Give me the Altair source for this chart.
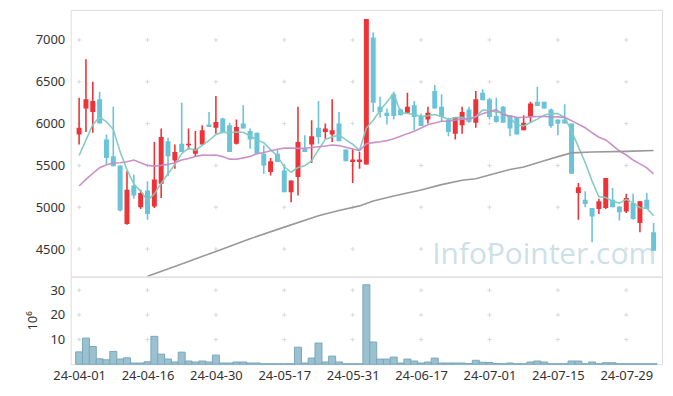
import altair as alt
import pandas as pd

# ---------------- data ----------------
dates = [
    "24-04-01", "24-04-02", "24-04-03", "24-04-04", "24-04-05", "24-04-08", "24-04-09", "24-04-11", "24-04-12", "24-04-15",
    "24-04-16", "24-04-17", "24-04-18", "24-04-19", "24-04-22", "24-04-23", "24-04-24", "24-04-25", "24-04-26", "24-04-29",
    "24-04-30", "24-05-02", "24-05-03", "24-05-07", "24-05-08", "24-05-09", "24-05-10", "24-05-13", "24-05-14", "24-05-16",
    "24-05-17", "24-05-20", "24-05-21", "24-05-22", "24-05-23", "24-05-24", "24-05-27", "24-05-28", "24-05-29", "24-05-30",
    "24-05-31", "24-06-03", "24-06-04", "24-06-05", "24-06-07", "24-06-10", "24-06-11", "24-06-12", "24-06-13", "24-06-14",
    "24-06-17", "24-06-18", "24-06-19", "24-06-20", "24-06-21", "24-06-24", "24-06-25", "24-06-26", "24-06-27", "24-06-28",
    "24-07-01", "24-07-02", "24-07-03", "24-07-04", "24-07-05", "24-07-08", "24-07-09", "24-07-10", "24-07-11", "24-07-12",
    "24-07-15", "24-07-16", "24-07-17", "24-07-18", "24-07-19", "24-07-22", "24-07-23", "24-07-24", "24-07-25", "24-07-26",
    "24-07-29", "24-07-30", "24-07-31", "24-08-01", "24-08-02",
]

opens = [5870, 6180, 6140, 6290, 5810, 5610, 5500, 4800, 5260, 5000,
         5200, 5010, 5280, 5790, 5560, 5760, 5740, 5640, 5750, 5990,
         5950, 6060, 5980, 5760, 6000, 5910, 5890, 5640, 5420, 5640,
         5440, 5180, 5360, 5700, 5750, 5950, 5900, 5870, 6000, 5690,
         5540, 5540, 5510, 7030, 6200, 6130, 6350, 6170, 6130, 6220,
         6090, 6050, 6390, 6200, 6050, 5880, 5980, 6170, 6010, 6370,
         6290, 6090, 6200, 6100, 6080, 5920, 6080, 6260, 6260, 6170,
         6050, 6050, 6000, 5170, 5090, 4990, 4980, 4990, 5090, 5010,
         4950, 5050, 4810, 5090, 4700]

highs = [6310, 6770, 6500, 6380, 5870, 6200, 5500, 5430, 5390, 5210,
         5310, 5780, 5940, 5830, 5750, 6250, 5940, 5910, 5980, 6140,
         6330, 6070, 6010, 6050, 6220, 5940, 5890, 5740, 5590, 5690,
         5510, 5320, 6200, 5860, 6040, 6270, 6000, 6290, 6140, 5690,
         5700, 5660, 7250, 7090, 6320, 6180, 6380, 6180, 6370, 6270,
         6120, 6200, 6460, 6350, 6070, 6080, 6200, 6200, 6390, 6410,
         6310, 6310, 6210, 6100, 6080, 6100, 6260, 6440, 6260, 6180,
         6050, 6230, 6000, 5290, 5190, 4990, 5100, 5350, 5230, 5010,
         5160, 5160, 5070, 5170, 4810]

lows = [5750, 5900, 5890, 6000, 5510, 5490, 4950, 4790, 5100, 4980,
        4850, 4990, 5110, 5370, 5460, 5660, 5690, 5600, 5750, 5960,
        5880, 5900, 5660, 5750, 5940, 5700, 5640, 5400, 5380, 5540,
        5180, 5060, 5140, 5660, 5530, 5760, 5820, 5780, 5790, 5550,
        5290, 5460, 5510, 6140, 6070, 5990, 6050, 6100, 6130, 5920,
        5970, 6000, 6180, 6020, 5850, 5810, 5880, 6010, 5950, 6280,
        6050, 6010, 6010, 5850, 5870, 5920, 6010, 6210, 6180, 5950,
        5860, 6000, 5400, 4850, 5000, 4580, 4920, 4980, 5000, 4840,
        4930, 4850, 4700, 4980, 4480]

closes = [5950, 6290, 6270, 6000, 5590, 5490, 4960, 5210, 5140, 5170,
          4920, 5330, 5840, 5610, 5660, 5660, 5760, 5700, 5920, 5960,
          6020, 5900, 5660, 5960, 5940, 5810, 5640, 5500, 5550, 5540,
          5180, 5320, 5780, 5660, 5850, 5840, 5940, 5920, 5790, 5550,
          5570, 5570, 7250, 6250, 6140, 6090, 6090, 6100, 6200, 6080,
          5970, 6130, 6180, 6080, 5900, 6080, 6140, 6020, 6290, 6280,
          6080, 6020, 6010, 5940, 5870, 6010, 6240, 6210, 6180, 5970,
          6000, 6000, 5400, 5240, 5040, 4890, 5070, 5350, 5000, 4940,
          5110, 4860, 5070, 4980, 4480]

volumes = [5.0, 10.6, 7.2, 2.2, 1.8, 5.2, 2.1, 2.6, 0.5, 0.5,
           1.0, 11.3, 4.1, 2.1, 0.9, 4.9, 1.3, 0.9, 1.3, 0.9,
           3.7, 0.5, 0.5, 0.9, 0.9, 0.5, 0.5, 0.2, 0.2, 0.2,
           0.2, 0.2, 6.9, 0.5, 2.5, 8.6, 0.9, 3.3, 0.9, 0.2,
           0.2, 0.2, 32.2, 9.0, 2.1, 2.1, 2.9, 0.5, 2.1, 1.3,
           0.5, 0.9, 2.5, 0.5, 0.5, 0.5, 0.5, 0.3, 1.6, 0.8,
           0.7, 0.3, 0.2, 0.5, 0.2, 0.2, 0.9, 1.3, 0.9, 0.2,
           0.2, 0.2, 1.3, 1.3, 0.2, 0.9, 0.2, 0.6, 0.6, 0.2,
           0.2, 0.2, 0.2, 0.2, 0.2]

ma5 = [5619, 5802, 5988, 6079, 6021, 5929, 5662, 5450, 5277, 5193,
       5079, 5160, 5285, 5400, 5510, 5640, 5707, 5679, 5740, 5798,
       5871, 5898, 5891, 5899, 5896, 5855, 5802, 5771, 5689, 5609,
       5483, 5418, 5474, 5496, 5557, 5688, 5812, 5839, 5865, 5806,
       5753, 5680, 5947, 6040, 6156, 6259, 6363, 6132, 6121, 6110,
       6086, 6094, 6109, 6086, 6049, 6071, 6074, 6042, 6085, 6161,
       6160, 6137, 6136, 6066, 5984, 5971, 6013, 6053, 6101, 6120,
       6119, 6071, 5909, 5721, 5535, 5312, 5125, 5117, 5070, 5049,
       5094, 5052, 4994, 4989, 4897]

ma20 = [5254, 5333, 5405, 5472, 5508, 5528, 5532, 5544, 5564, 5532,
        5500, 5492, 5500, 5512, 5532, 5564, 5583, 5607, 5623, 5622,
        5625, 5605, 5575, 5573, 5590, 5606, 5640, 5655, 5676, 5694,
        5707, 5707, 5704, 5706, 5715, 5724, 5733, 5744, 5737, 5717,
        5695, 5678, 5758, 5772, 5782, 5796, 5818, 5848, 5880, 5907,
        5947, 5987, 6007, 6028, 6030, 6043, 6053, 6058, 6083, 6119,
        6144, 6167, 6105, 6089, 6076, 6072, 6080, 6085, 6084, 6079,
        6080, 6074, 6035, 5993, 5950, 5890, 5837, 5804, 5739, 5672,
        5624, 5565, 5518, 5470, 5400]

ma120_idx = [10, 15, 20, 25, 30, 35, 38, 41, 43, 46, 50, 53, 56, 58, 60, 63, 65, 68, 70, 72, 75, 80, 84]
ma120_val = [4175, 4321, 4472, 4623, 4762, 4897, 4962, 5016, 5075, 5135, 5206, 5270, 5322, 5340, 5385,
             5452, 5480, 5555, 5605, 5650, 5660, 5668, 5678]

price_ticks = [4500, 5000, 5500, 6000, 6500, 7000]
vol_ticks = [10, 20, 30]
x_tick_idx = [0, 10, 20, 30, 40, 50, 60, 70, 80]

# ---------------- frames ----------------
n = len(dates)
df = pd.DataFrame({"i": list(range(n)), "date": dates, "open": opens, "high": highs,
                   "low": lows, "close": closes, "vol": volumes, "ma5": ma5, "ma20": ma20})
df120 = pd.DataFrame({"i": ma120_idx, "ma120": ma120_val})
cross_price = pd.DataFrame([{"i": x, "y": y} for x in x_tick_idx for y in price_ticks])
cross_vol = pd.DataFrame([{"i": x, "y": y} for x in x_tick_idx for y in vol_ticks])
wm = pd.DataFrame({"t": ["InfoPointer.com"]})

RED = "#ee3338"
BLUE = "#6bc3da"
FONT = "Noto Sans"
W = 594
xscale = alt.Scale(domain=[-0.5, n - 0.5], nice=False, zero=False)
yscale = alt.Scale(domain=[4170, 7360], nice=False, zero=False)
color_cond = alt.condition("datum.close >= datum.open", alt.value(RED), alt.value(BLUE))
label_js = "[" + ",".join("'" + d + "'" for d in dates) + "][datum.value]"
plus = "M-1,0L1,0M0,-1L0,1"

xq = alt.X("i:Q", scale=xscale, axis=None)

watermark = alt.Chart(wm).mark_text(
    fontSize=30, font="Open Sans", color="#cddfe8", align="right", baseline="alphabetic"
).encode(x=alt.value(588), y=alt.value(255), text="t:N")

crosses_p = alt.Chart(cross_price).mark_point(
    shape=plus, size=18, filled=False, strokeWidth=1, color="#d9d9d9", opacity=1
).encode(x=xq, y=alt.Y("y:Q", scale=yscale,
                      axis=alt.Axis(values=price_ticks, format="d", title=None, grid=False, ticks=False,
                                    domain=False, labelFontSize=13, labelColor="#333333",
                                    labelFont=FONT, labelPadding=6)))

wicks = alt.Chart(df).mark_rule(strokeWidth=1.6, clip=True).encode(
    x=xq, y=alt.Y("low:Q", scale=yscale), y2="high:Q", color=color_cond)
bodies = alt.Chart(df).mark_bar(size=5, clip=True).encode(
    x=xq, y=alt.Y("open:Q", scale=yscale), y2="close:Q", color=color_cond)

line5 = alt.Chart(df).mark_line(color="#80c9bf", strokeWidth=1.6, opacity=0.95, clip=True).encode(
    x=xq, y=alt.Y("ma5:Q", scale=yscale))
line20 = alt.Chart(df).mark_line(color="#c88bc6", strokeWidth=1.6, opacity=0.95, clip=True).encode(
    x=xq, y=alt.Y("ma20:Q", scale=yscale))
line120 = alt.Chart(df120).mark_line(color="#999999", strokeWidth=1.6, clip=True).encode(
    x=xq, y=alt.Y("ma120:Q", scale=yscale))

price = alt.layer(watermark, crosses_p, wicks, bodies, line5, line20, line120).properties(
    width=W, height=268)

vscale = alt.Scale(domain=[0, 35.5], nice=False, zero=True)
xv = alt.X("i:Q", scale=xscale,
           axis=alt.Axis(values=x_tick_idx, labelExpr=label_js, title=None, grid=False, ticks=False,
                         domain=False, labelFontSize=13, labelColor="#333333", labelFont=FONT,
                         labelPadding=5))
crosses_v = alt.Chart(cross_vol).mark_point(
    shape=plus, size=18, filled=False, strokeWidth=1, color="#d9d9d9", opacity=1
).encode(x=xv, y=alt.Y("y:Q", scale=vscale,
                      axis=alt.Axis(values=vol_ticks, title="10⁶", grid=False, ticks=False,
                                    domain=False, labelFontSize=13, labelColor="#333333",
                                    labelFont=FONT, labelPadding=6, titleFont=FONT,
                                    titleFontSize=13, titleFontWeight="normal",
                                    titleColor="#333333", titlePadding=10)))
vbars = alt.Chart(df).mark_bar(size=7, color="#9bc1d1", stroke="#7aa6b9", strokeWidth=1).encode(
    x=xv, y=alt.Y("vol:Q", scale=vscale))
volume = alt.layer(crosses_v, vbars).properties(width=W, height=88)

chart = alt.vconcat(price, volume, spacing=0, bounds="flush").properties(
    padding={"left": 18, "top": 0, "right": 2, "bottom": 2}
).configure_view(stroke="#e3e3e3").configure(font=FONT)

chart.save("out.html", embed_options={"renderer": "svg", "actions": False})
